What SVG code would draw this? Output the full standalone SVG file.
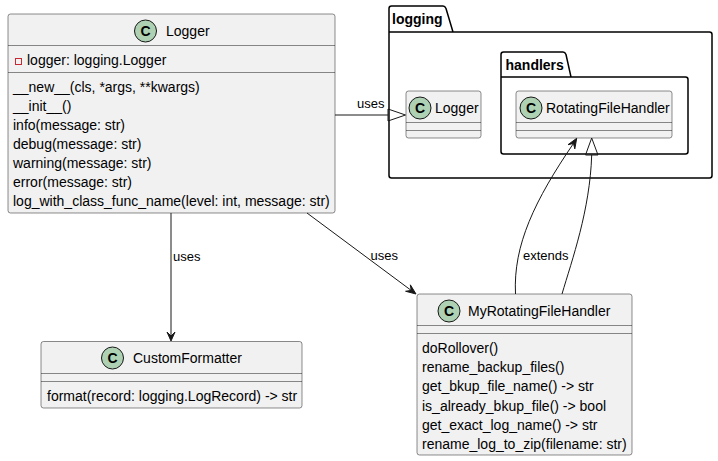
<svg xmlns="http://www.w3.org/2000/svg" width="718" height="461" viewBox="0 0 718 461">
<style>
text{font-family:"Liberation Sans",Arial,sans-serif;fill:#000}
.t{font-size:14px}
.m{font-size:14px}
.lbl{font-size:13px}
.pk{font-size:14px;font-weight:bold}
.cls{fill:#F1F1F1;stroke:#181818;stroke-width:0.5}
.sep{stroke:#181818;stroke-width:0.5}
.pkg{fill:none;stroke:#000;stroke-width:1.5}
.ci{fill:#ADD1B2;stroke:#181818;stroke-width:1}
.cl{font-size:14px;font-weight:bold;text-anchor:middle}
.ln{fill:none;stroke:#181818;stroke-width:1}
.ah{fill:#181818;stroke:#181818;stroke-width:1}
.oh{fill:none;stroke:#181818;stroke-width:1}
</style>
<rect width="718" height="461" fill="#fff"/>
<g id="pkg-logging">
<path class="pkg" d="M389,32 L389,8.5 Q389,6 391.5,6 L443,6 Q445,6 446,8.5 L453,32 L709.5,32 Q712,32 712,34.5 L712,175.5 Q712,178 709.5,178 L391.5,178 Q389,178 389,175.5 Z M389,32 L453,32"/>
<text class="pk" x="392" y="24">logging</text>
</g>
<g id="pkg-handlers">
<path class="pkg" d="M501,77 L501,54.5 Q501,52 503.5,52 L563,52 Q565,52 566,54.5 L571,77 L685.5,77 Q688,77 688,79.5 L688,151.5 Q688,154 685.5,154 L503.5,154 Q501,154 501,151.5 Z M501,77 L571,77"/>
<text class="pk" x="505.5" y="69.5">handlers</text>
</g>
<g id="Logger">
<rect class="cls" x="8" y="14" width="327" height="199" rx="2.5"/>
<circle class="ci" cx="145.5" cy="31" r="11"/>
<text class="cl" x="145.5" y="36">C</text>
<text class="t" x="166" y="36">Logger</text>
<line class="sep" x1="8" y1="45.5" x2="335" y2="45.5"/>
<rect x="15.5" y="58.5" width="6" height="6" fill="none" stroke="#C82930" stroke-width="1"/>
<text class="m" x="27" y="65">logger: logging.Logger</text>
<line class="sep" x1="8" y1="72.5" x2="335" y2="72.5"/>
<text class="m" x="13" y="92">__new__(cls, *args, **kwargs)</text>
<text class="m" x="13" y="111">__init__()</text>
<text class="m" x="13" y="130">info(message: str)</text>
<text class="m" x="13" y="149">debug(message: str)</text>
<text class="m" x="13" y="168">warning(message: str)</text>
<text class="m" x="13" y="187">error(message: str)</text>
<text class="m" x="13" y="206">log_with_class_func_name(level: int, message: str)</text>
</g>
<g id="logging.Logger">
<rect class="cls" x="406" y="91" width="75" height="47" rx="2.5"/>
<circle class="ci" cx="420" cy="108" r="11"/>
<text class="cl" x="420" y="113">C</text>
<text class="t" x="435" y="113">Logger</text>
<line class="sep" x1="406" y1="122.5" x2="481" y2="122.5"/>
<line class="sep" x1="406" y1="130.5" x2="481" y2="130.5"/>
</g>
<g id="RotatingFileHandler">
<rect class="cls" x="516" y="91" width="156" height="47" rx="2.5"/>
<circle class="ci" cx="531" cy="108" r="11"/>
<text class="cl" x="531" y="113">C</text>
<text class="t" x="546" y="113">RotatingFileHandler</text>
<line class="sep" x1="516" y1="122.5" x2="672" y2="122.5"/>
<line class="sep" x1="516" y1="130.5" x2="672" y2="130.5"/>
</g>
<g id="CustomFormatter">
<rect class="cls" x="41" y="341.5" width="261" height="66.5" rx="2.5"/>
<circle class="ci" cx="112.5" cy="358" r="11"/>
<text class="cl" x="112.5" y="363">C</text>
<text class="t" x="133" y="363">CustomFormatter</text>
<line class="sep" x1="41" y1="373.5" x2="302" y2="373.5"/>
<line class="sep" x1="41" y1="381.5" x2="302" y2="381.5"/>
<text class="m" x="47" y="401">format(record: logging.LogRecord) -&gt; str</text>
</g>
<g id="MyRotatingFileHandler">
<rect class="cls" x="417" y="294" width="215" height="161" rx="2.5"/>
<circle class="ci" cx="449" cy="311" r="11"/>
<text class="cl" x="449" y="316">C</text>
<text class="t" x="468" y="316">MyRotatingFileHandler</text>
<line class="sep" x1="417" y1="325.5" x2="632" y2="325.5"/>
<line class="sep" x1="417" y1="333.5" x2="632" y2="333.5"/>
<text class="m" x="422" y="353">doRollover()</text>
<text class="m" x="422" y="372.2">rename_backup_files()</text>
<text class="m" x="422" y="391.4">get_bkup_file_name() -&gt; str</text>
<text class="m" x="422" y="410.6">is_already_bkup_file() -&gt; bool</text>
<text class="m" x="422" y="429.8">get_exact_log_name() -&gt; str</text>
<text class="m" x="422" y="449">rename_log_to_zip(filename: str)</text>
</g>
<g id="connectors">
<line class="ln" x1="335" y1="115" x2="388" y2="115"/>
<polygon class="oh" points="388,109 405.5,115 388,121"/>
<text class="lbl" x="357" y="108">uses</text>
<line class="ln" x1="171" y1="213" x2="171" y2="336"/>
<polygon class="ah" points="171,341 175,332 171,336 167,332"/>
<text class="lbl" x="173" y="261">uses</text>
<line class="ln" x1="307" y1="213" x2="411.2" y2="290.4"/>
<polygon class="ah" points="416,294 410.35,284.83 411.18,290.42 405.59,291.25"/>
<text class="lbl" x="370.5" y="260">uses</text>
<path class="ln" d="M515.5,294 C513,245 535,200 573.5,143.4"/>
<polygon class="ah" points="576.7,138.3 574.8,148.9 573.5,143.4 568,144.7"/>
<path class="ln" d="M562,294 C572,260 590,210 591.7,155"/>
<polygon class="oh" points="585.5,155 591.7,138 598,155"/>
<text class="lbl" x="523" y="260">extends</text>
</g>
</svg>
